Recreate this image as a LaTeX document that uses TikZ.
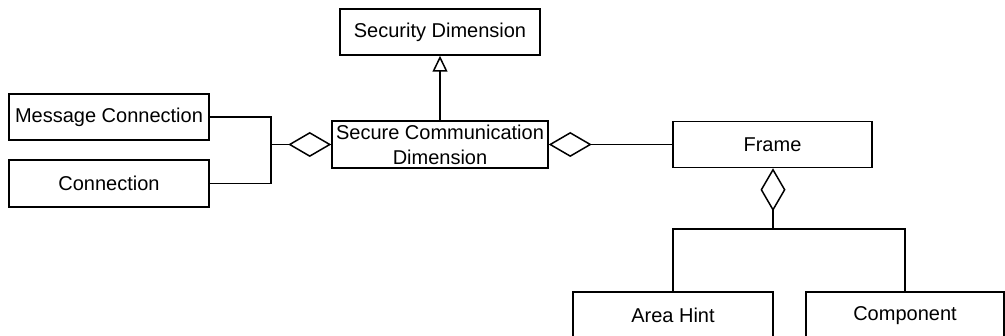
\documentclass[tikz,border=0pt]{standalone}
\usepackage{fontspec}
\setmainfont{Liberation Sans}
\usetikzlibrary{arrows.meta}
\begin{document}
\begin{tikzpicture}[x=1pt,y=-1pt,
  every node/.style={font=\fontsize{20}{25}\selectfont},
  cls/.style={draw, line width=1.5pt, rectangle, inner sep=0pt, align=center},
  link/.style={line width=1.5pt},
  agg/.style={link, -{Diamond[open, length=43pt, width=25pt, line width=1.5pt]}},
  inh/.style={link, -{Triangle[open, length=16pt, width=15pt, line width=1.5pt]}}]
  \useasboundingbox (0,0) rectangle (1005,336);
  \clip (0,0) rectangle (1005,336);
  % classes
  \node[cls, minimum width=200pt, minimum height=46pt] (sec) at (440,32) {Security Dimension};
  \node[cls, minimum width=200pt, minimum height=46pt] (msg) at (109,117) {Message Connection};
  \node[cls, minimum width=200pt, minimum height=47pt] (con) at (109,183.5) {Connection};
  \node[cls, minimum width=216pt, minimum height=47pt] (scd) at (440,144.5) {Secure Communication\\Dimension};
  \node[cls, minimum width=199pt, minimum height=46pt] (frm) at (772.5,144.5) {Frame};
  \node[cls, minimum width=200pt, minimum height=47pt] (ah) at (673,315.5) {Area Hint};
  \node[cls, minimum width=198pt, minimum height=47pt] (cmp) at (905,315.5) {Component};
  % generalisation
  \draw[inh] (scd.north) -- (sec.south);
  % aggregation of the connections
  \coordinate (j) at (271,144.5);
  \draw[link] (msg.east) -| (j) |- (con.east);
  \draw[agg] (j) -- (scd.west);
  % aggregation with the frame
  \draw[agg] (frm.west) -- (scd.east);
  % frame parts
  \coordinate (bar) at (773,229);
  \draw[agg] (bar) -- (frm.south -| bar);
  \draw[link] (ah.north) |- (cmp.north |- bar) -- (cmp.north);
\end{tikzpicture}
\end{document}
